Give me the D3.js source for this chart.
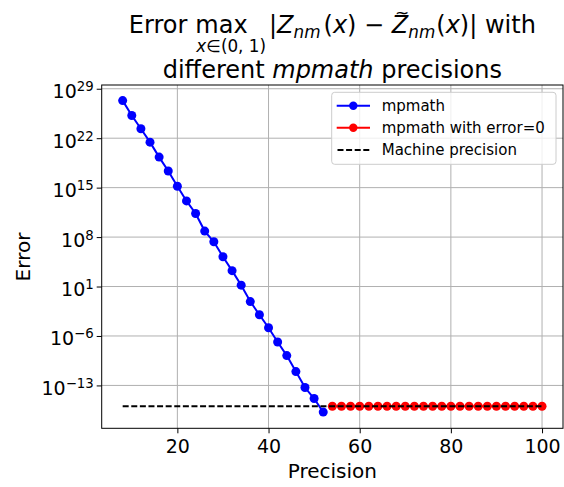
<!DOCTYPE html>
<html><head><meta charset="utf-8">
<script src="https://cdn.jsdelivr.net/npm/d3@7"></script>
<style>body{margin:0;background:#fff}svg{display:block}text{font-family:"DejaVu Sans",sans-serif}</style>
</head><body>
<svg id="c" width="564" height="487"></svg>
<script>
// ---- data ----
const precisionMp = [8,10,12,14,16,18,20,22,24,26,28,30,32,34,36,38,40,42,44,46,48,50,52];
const errorMp = [2.09e27,1.62e25,2.14e23,2.75e21,2.09e19,2.24e17,1.55e15,1.32e13,2.19e11,7.08e8,2.19e7,1.66e5,1778,15.5,0.0741,1.0e-3,1.45e-5,1.41e-7,1.66e-9,9.12e-12,5.01e-14,1.41e-15,1.66e-17];
const precisionZero = [54,56,58,60,62,64,66,68,70,72,74,76,78,80,82,84,86,88,90,92,94,96,98,100];
const errorZero = [1.11e-16,1.11e-16,1.11e-16,1.11e-16,1.11e-16,1.11e-16,1.11e-16,1.11e-16,1.11e-16,1.11e-16,1.11e-16,1.11e-16,1.11e-16,1.11e-16,1.11e-16,1.11e-16,1.11e-16,1.11e-16,1.11e-16,1.11e-16,1.11e-16,1.11e-16,1.11e-16,1.11e-16];
const machinePrecision = 1.11e-16;
const machineRange = [8,100];
const xTicks = [20,40,60,80,100];
const yTickExps = [-13,-6,1,8,15,22,29];
const legendLabels = ["mpmath","mpmath with error=0","Machine precision"];
const xLabel = "Precision", yLabel = "Error";

// ---- layout ----
const L = 101.7, R = 563, T = 85, B = 428.3;
const svg = d3.select("#c");
const x = d3.scaleLinear().domain([3.4,104.6]).range([L,R]);
const y = d3.scaleLog().domain([Math.pow(10,-19.07),Math.pow(10,29.53)]).range([B,T]);

// grid
const grid = svg.append("g").attr("stroke","#b0b0b0").attr("stroke-width",1);
xTicks.forEach(v=>grid.append("line").attr("x1",x(v)).attr("x2",x(v)).attr("y1",T).attr("y2",B));
yTickExps.forEach(e=>grid.append("line").attr("x1",L).attr("x2",R).attr("y1",y(Math.pow(10,e))).attr("y2",y(Math.pow(10,e))));

// axes
const xa = svg.append("g").attr("transform",`translate(0,${B})`)
  .call(d3.axisBottom(x).tickValues(xTicks).tickSize(5).tickSizeOuter(0).tickPadding(6));
xa.select(".domain").remove();
xa.selectAll("text").attr("font-size","19px").attr("font-family","DejaVu Sans").attr("fill","#000");
const ya = svg.append("g").attr("transform",`translate(${L},0)`)
  .call(d3.axisLeft(y).tickValues(yTickExps.map(e=>Math.pow(10,e))).tickSize(5).tickSizeOuter(0).tickFormat(""));
ya.select(".domain").remove();
ya.selectAll(".tick").each(function(d){
  const e = Math.round(Math.log10(d));
  const t = d3.select(this).append("text").attr("x",-8).attr("y",9).attr("text-anchor","end")
    .attr("fill","#000").attr("font-size","19px");
  t.append("tspan").text("10");
  t.append("tspan").attr("dy",-7).attr("font-size","13.3px").text(String(e).replace("-","\u2212"));
});

// data
const line = d3.line().x(d=>x(d[0])).y(d=>y(d[1]));
const mp = precisionMp.map((p,i)=>[p,errorMp[i]]);
const zr = precisionZero.map((p,i)=>[p,errorZero[i]]);
svg.append("path").datum(mp).attr("d",line).attr("fill","none").attr("stroke","#0000ff").attr("stroke-width",2);
svg.selectAll(".pb").data(mp).enter().append("circle").attr("cx",d=>x(d[0])).attr("cy",d=>y(d[1])).attr("r",4.5).attr("fill","#0000ff");
svg.append("path").datum(zr).attr("d",line).attr("fill","none").attr("stroke","#ff0000").attr("stroke-width",2);
svg.selectAll(".pr").data(zr).enter().append("circle").attr("cx",d=>x(d[0])).attr("cy",d=>y(d[1])).attr("r",4.5).attr("fill","#ff0000");
svg.append("line").attr("x1",x(machineRange[0])).attr("x2",x(machineRange[1]))
  .attr("y1",y(machinePrecision)).attr("y2",y(machinePrecision))
  .attr("stroke","#000").attr("stroke-width",2).attr("stroke-dasharray","6,2.6");

// spines
svg.append("rect").attr("x",L).attr("y",T).attr("width",R-L).attr("height",B-T).attr("fill","none").attr("stroke","#000").attr("stroke-width",1);

// labels
svg.append("text").attr("x",(L+R)/2).attr("y",478).attr("text-anchor","middle").attr("font-size","20px").text(xLabel);
svg.append("text").attr("transform","translate(30,257) rotate(-90)").attr("text-anchor","middle").attr("font-size","20px").text(yLabel);

// legend
const lg = svg.append("g");
lg.append("rect").attr("x",331.7).attr("y",92.3).attr("width",224.3).attr("height",72).attr("rx",3)
  .attr("fill","#fff").attr("fill-opacity",0.8).attr("stroke","#cccccc");
const rowsY = [105.7,127.7,150];
const cols = ["#0000ff","#ff0000","#000"];
legendLabels.forEach((lab,i)=>{
  const ly = rowsY[i];
  const ln = lg.append("line").attr("x1",336.7).attr("x2",370).attr("y1",ly).attr("y2",ly).attr("stroke",cols[i]).attr("stroke-width",2);
  if(i<2) lg.append("circle").attr("cx",353.3).attr("cy",ly).attr("r",4.2).attr("fill",cols[i]);
  else ln.attr("stroke-dasharray","6,2.6").attr("x1",337.5);
  lg.append("text").attr("x",381.7).attr("y",ly+5.3).attr("font-size","15px").text(lab);
});

// title
const tg = svg.append("g");
const big = 24, sub = 16.8;
const pieces = [
  {t:"Error",s:big},{gap:8},{t:"max",s:big,id:"max"},{gap:3,afterSub:1},{t:"|",s:big},{t:"Z",s:big,it:1},
  {t:"nm",s:sub,it:1,dy:5},{gap:3},{t:"(",s:big},{t:"x",s:big,it:1},{t:")",s:big},
  {t:" \u2212 ",s:big},{t:"Z",s:big,it:1,tilde:1},{t:"nm",s:sub,it:1,dy:5},{gap:1},{t:"(",s:big},{t:"x",s:big,it:1},
  {t:")|",s:big},{t:" with",s:big}
];
let cx = 0, maxX = 0, maxW = 0;
const baseY = 33;
pieces.forEach(p=>{
  if(p.gap){
    if(p.afterSub){
      const st = tg.append("text").attr("x",maxX+1).attr("y",baseY+19).attr("font-size",sub+"px");
      st.append("tspan").attr("font-style","italic").text("x");
      st.append("tspan").text("\u2208(0, 1)");
      const sw = st.node().getComputedTextLength();
      cx = Math.max(cx, maxX+1+sw);
    }
    cx+=p.gap;return;
  }
  const el = tg.append("text").attr("x",cx).attr("y",baseY+(p.dy||0)).attr("font-size",p.s+"px")
    .attr("font-style",p.it?"italic":"normal").style("white-space","pre").text(p.t);
  const w = el.node().getComputedTextLength();
  if(p.id==="max"){maxX=cx;maxW=w;}
  if(p.tilde){tg.append("text").attr("x",cx+w/2+2).attr("y",baseY-14).attr("text-anchor","middle").attr("font-size","17px").text("~");}
  cx += w;
});
tg.attr("transform",`translate(${(L+R)/2 - cx/2},0)`);
const t2 = svg.append("text").attr("x",(L+R)/2).attr("y",78).attr("text-anchor","middle").attr("font-size","24px");
t2.append("tspan").text("different ");
t2.append("tspan").attr("font-style","italic").text("mpmath");
t2.append("tspan").text(" precisions");
</script>
</body></html>
